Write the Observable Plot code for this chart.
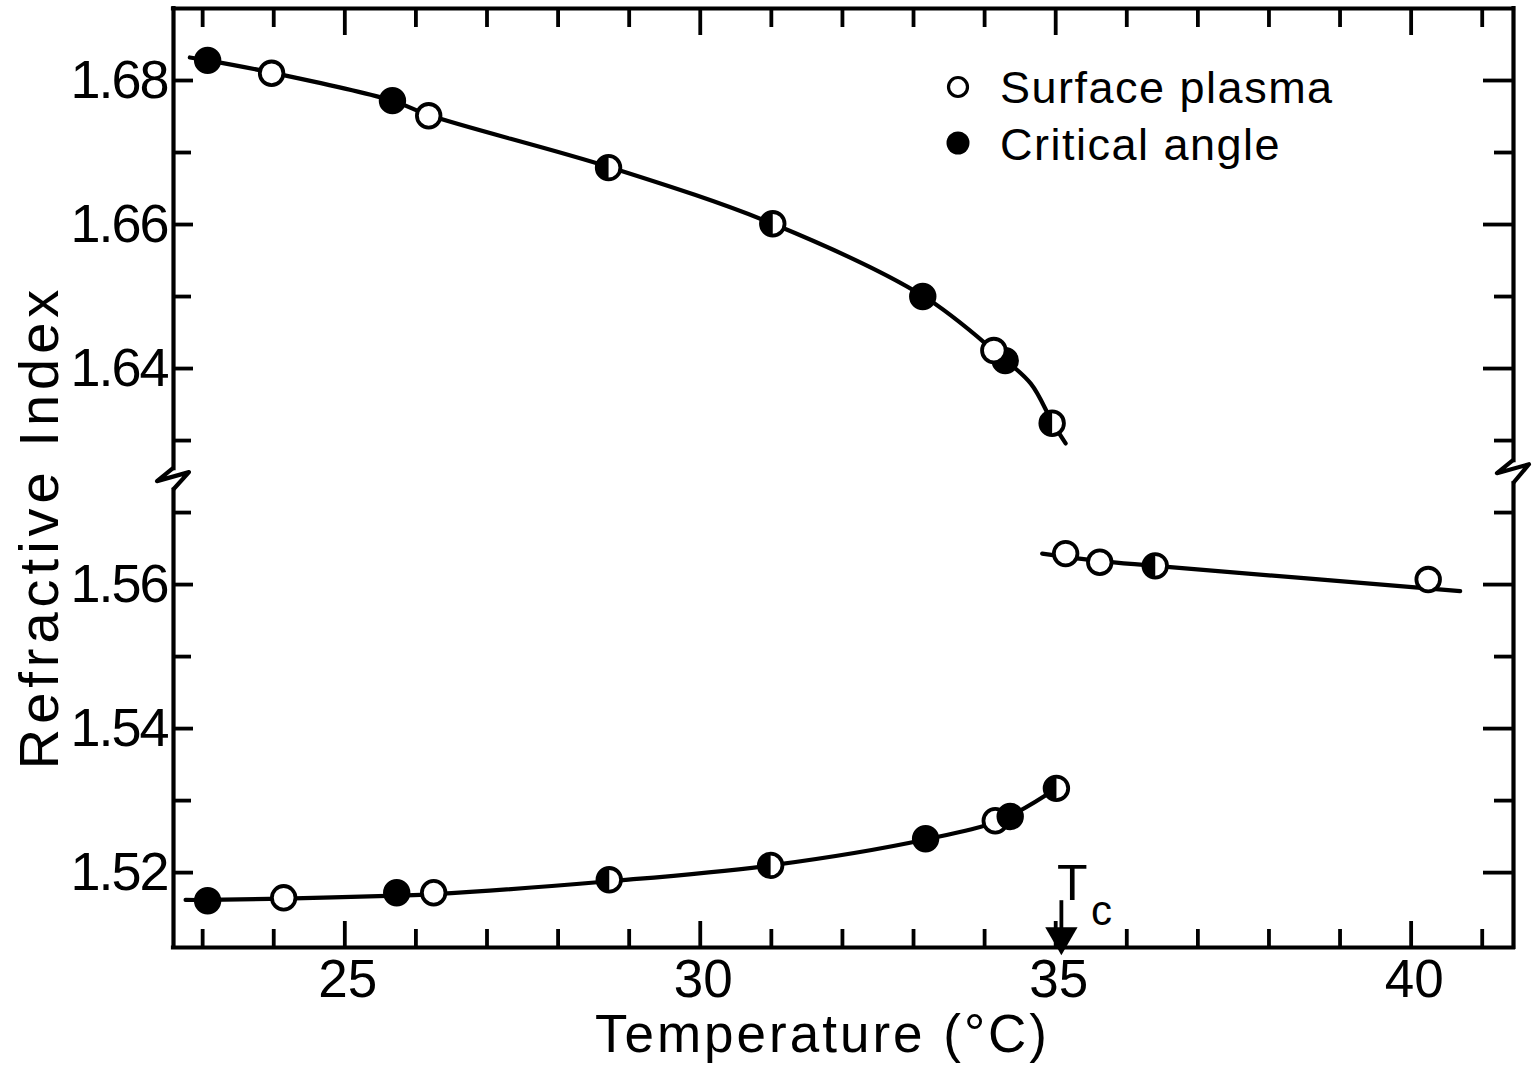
<!DOCTYPE html>
<html>
<head>
<meta charset="utf-8">
<script src="https://cdn.jsdelivr.net/npm/d3@7"></script>
<script src="https://cdn.jsdelivr.net/npm/@observablehq/plot@0.6"></script>
<style>
  html, body { margin: 0; padding: 0; background: #fff; }
  #chart { width: 1533px; height: 1071px; }
  svg [aria-label="y-axis tick label"] text { letter-spacing: -2px; }
  svg [aria-label="x-axis tick label"] text { letter-spacing: 0px; }
</style>
</head>
<body>
<div id="chart"></div>
<script>
// ---------- data ----------
// Upper branch (below Tc, high index)
const upperT    = [23.07, 23.97, 25.67, 26.18, 28.71, 31.02, 33.13, 34.29, 34.13, 34.95];
const upperN    = [1.6828, 1.6810, 1.6772, 1.6751, 1.6679, 1.6601, 1.6500, 1.6411, 1.6425, 1.6324];
const upperKind = ["critical", "surface", "critical", "surface", "both", "both", "critical", "critical", "surface", "both"];
// Lower branch (below Tc, low index)
const lowerT    = [23.07, 24.14, 25.73, 26.25, 28.72, 30.99, 33.17, 34.15, 34.36, 35.01];
const lowerN    = [1.5161, 1.5165, 1.5172, 1.5172, 1.5190, 1.5210, 1.5247, 1.5272, 1.5278, 1.5317];
const lowerKind = ["critical", "surface", "critical", "surface", "both", "both", "critical", "surface", "critical", "both"];
// Above Tc
const highT     = [35.14, 35.62, 36.40, 40.24];
const highN     = [1.5643, 1.5631, 1.5626, 1.5607];
const highKind  = ["surface", "surface", "both", "surface"];

// Hand-drawn fit curves
const upperFitT = [22.82, 23.07, 23.97, 25.67, 26.18, 28.71, 31.02, 33.13, 34.20, 34.65, 34.95, 35.14];
const upperFitN = [1.6832, 1.6828, 1.6811, 1.6772, 1.6752, 1.6680, 1.6601, 1.6501, 1.6419, 1.6379, 1.6326, 1.6296];
const lowerFitT = [22.76, 23.07, 24.14, 25.73, 26.25, 28.72, 30.99, 33.17, 34.25, 35.01];
const lowerFitN = [1.5162, 1.5162, 1.5164, 1.5168, 1.5170, 1.5188, 1.5210, 1.5246, 1.5274, 1.5317];
const highFitT  = [34.81, 35.60, 36.40, 40.69];
const highFitN  = [1.5643, 1.5633, 1.5626, 1.5591];

// Axis ticks
const xLabelTicks = [25, 30, 35, 40];
const xMinorTicks = [23, 24, 26, 27, 28, 29, 31, 32, 33, 34, 36, 37, 38, 39, 41];
const yLabelTicks = [1.52, 1.54, 1.56, 1.64, 1.66, 1.68];
const yMinorTicks = [1.53, 1.55, 1.57, 1.63, 1.65, 1.67];

const tcT = 35.08;
const tcLabel = "T";
const tcSub = "c";
const legendItems = ["Surface plasma", "Critical angle"];
const xTitle = "Temperature (°C)";
const yTitle = "Refractive Index";

// ---------- broken-axis mapping ----------
const yOffset = 0.05;     // gap removed between 1.5745 and 1.6245
const yBreak = 1.60;
const disp = n => (n > yBreak ? n - yOffset : n);
const undisp = d => (d > 1.5745 ? d + yOffset : d);

const W = 1533, H = 1071;
const mL = 173, mR = 20, mT = 8, mB = 124;
const frameW = W - mL - mR;
const frameH = H - mT - mB;
const xDomain = [22.59, 41.44];
const yDomain = [1.5096, 1.64];

const rows = (T, N, K) => T.map((t, i) => ({t, n: N[i], y: disp(N[i]), kind: K ? K[i] : null}));
const pts = [...rows(upperT, upperN, upperKind), ...rows(lowerT, lowerN, lowerKind), ...rows(highT, highN, highKind)];
const fits = [rows(upperFitT, upperFitN), rows(lowerFitT, lowerFitN), rows(highFitT, highFitN)];

const halfLeft = {
  draw(ctx, size) {
    const r = Math.sqrt(size / Math.PI);
    ctx.moveTo(0, -r);
    ctx.arc(0, 0, r, -Math.PI / 2, Math.PI / 2, true);
    ctx.closePath();
  }
};

// frame side segments (display units), split at the axis break
const frameSegs = [
  {x: xDomain[0], y1: yDomain[1], y2: 1.5761},
  {x: xDomain[0], y1: 1.5731, y2: yDomain[0]},
  {x: xDomain[1], y1: yDomain[1], y2: 1.5772},
  {x: xDomain[1], y1: 1.5740, y2: yDomain[0]}
];

const font = "'Liberation Sans', Arial, sans-serif";
const SW = 3.8;
const R = 11.8;

const plot = Plot.plot({
  width: W, height: H,
  marginLeft: mL, marginRight: mR, marginTop: mT, marginBottom: mB,
  style: {fontFamily: font, fontSize: "54px", color: "black", background: "white"},
  x: {domain: xDomain},
  y: {domain: yDomain},
  color: {type: "identity"},
  marks: [
    // tick labels
    Plot.axisX({ticks: xLabelTicks, tickSize: 0, tickPadding: 12, tickFormat: d => String(d), fontSize: 53, dx: 3}),
    Plot.axisY({ticks: yLabelTicks.map(disp), tickSize: 0, tickPadding: 6, tickFormat: d => undisp(d).toFixed(2), fontSize: 54}),
    // inward tick marks: bottom & top
    Plot.ruleX(xLabelTicks, {x: d => d, insetTop: frameH - 26, strokeWidth: SW}),
    Plot.ruleX(xMinorTicks, {x: d => d, insetTop: frameH - 18, strokeWidth: SW}),
    Plot.ruleX(xLabelTicks, {x: d => d, insetBottom: frameH - 27, strokeWidth: SW}),
    Plot.ruleX(xMinorTicks, {x: d => d, insetBottom: frameH - 19, strokeWidth: SW}),
    // inward tick marks: left & right
    Plot.ruleY(yLabelTicks, {y: d => disp(d), insetRight: frameW - 20, strokeWidth: SW}),
    Plot.ruleY(yMinorTicks, {y: d => disp(d), insetRight: frameW - 18, strokeWidth: SW}),
    Plot.ruleY(yLabelTicks, {y: d => disp(d), insetLeft: frameW - 30, strokeWidth: SW}),
    Plot.ruleY(yMinorTicks, {y: d => disp(d), insetLeft: frameW - 19, strokeWidth: SW}),
    // frame
    Plot.ruleY(yDomain, {strokeWidth: 4.2, strokeLinecap: "square"}),
    Plot.ruleX(frameSegs, {x: "x", y1: "y1", y2: "y2", strokeWidth: 4.2, strokeLinecap: "square"}),
    // fitted curves
    ...fits.map(f => Plot.line(f, {x: "t", y: "y", curve: "catmull-rom", stroke: "black", strokeWidth: 4.2})),
    // data points
    Plot.dot(pts, {x: "t", y: "y", r: R, fill: d => (d.kind === "critical" ? "black" : "white"), stroke: "black", strokeWidth: SW}),
    Plot.dot(pts.filter(d => d.kind === "both"), {x: "t", y: "y", r: R, symbol: halfLeft, fill: "black"}),
    // Tc arrow
    Plot.ruleX([tcT], {x: d => d, y1: 1.5161, y2: yDomain[0], strokeWidth: SW}),
    Plot.dot([tcT], {x: d => d, frameAnchor: "bottom", dy: -11, symbol: "triangle", rotate: 180, r: 12, fill: "black"}),
    Plot.text([tcLabel], {x: () => tcT, y: () => 1.5184, text: d => d, dx: 11, fontSize: 50}),
    Plot.text([tcSub], {x: () => tcT, y: () => 1.5146, text: d => d, dx: 40, fontSize: 42}),
    // axis titles
    Plot.text([xTitle], {text: d => d, frameAnchor: "bottom", textAnchor: "middle", lineAnchor: "middle", dy: 88, dx: -21, fontSize: 53}),
    Plot.text([yTitle], {text: d => d, frameAnchor: "left", textAnchor: "middle", lineAnchor: "middle", rotate: -90, dx: -133, dy: 49, fontSize: 56})
  ]
});

document.getElementById("chart").appendChild(plot);

// ---------- post-render decorations: axis break zigzags and legend ----------
const sx = plot.scale("x"), sy = plot.scale("y");
const svg = d3.select(plot);
const zig = (x0, yTop, yBot) => {
  const a = sy.apply(yTop), b = sy.apply(yBot);
  return `M${x0},${a} L${x0 - 16},${a + 13} L${x0 + 16},${a + 4} L${x0},${b}`;
};
const xl = sx.apply(xDomain[0]), xr = sx.apply(xDomain[1]);
svg.append("path").attr("d", zig(xl, 1.5761, 1.5731))
  .attr("fill", "none").attr("stroke", "black").attr("stroke-width", 4.2).attr("stroke-linejoin", "round");
svg.append("path").attr("d", zig(xr, 1.5772, 1.5740))
  .attr("fill", "none").attr("stroke", "black").attr("stroke-width", 4.2).attr("stroke-linejoin", "round");

// titles letter spacing
svg.selectAll("text").filter(function() { return this.textContent === xTitle; }).attr("letter-spacing", 3);
svg.selectAll("text").filter(function() { return this.textContent === yTitle; }).attr("letter-spacing", 5);

// legend (inside the frame, top right)
const lg = svg.append("g").attr("font-family", font).attr("font-size", 45)
  .attr("letter-spacing", 1.5).attr("text-anchor", "start");
lg.append("circle").attr("cx", 958).attr("cy", 87).attr("r", 9.5).attr("fill", "white").attr("stroke", "black").attr("stroke-width", 3.2);
lg.append("text").attr("x", 1000).attr("y", 103).text(legendItems[0]);
lg.append("circle").attr("cx", 958).attr("cy", 143).attr("r", 11.5).attr("fill", "black");
lg.append("text").attr("x", 1000).attr("y", 160).text(legendItems[1]);
</script>
</body>
</html>
